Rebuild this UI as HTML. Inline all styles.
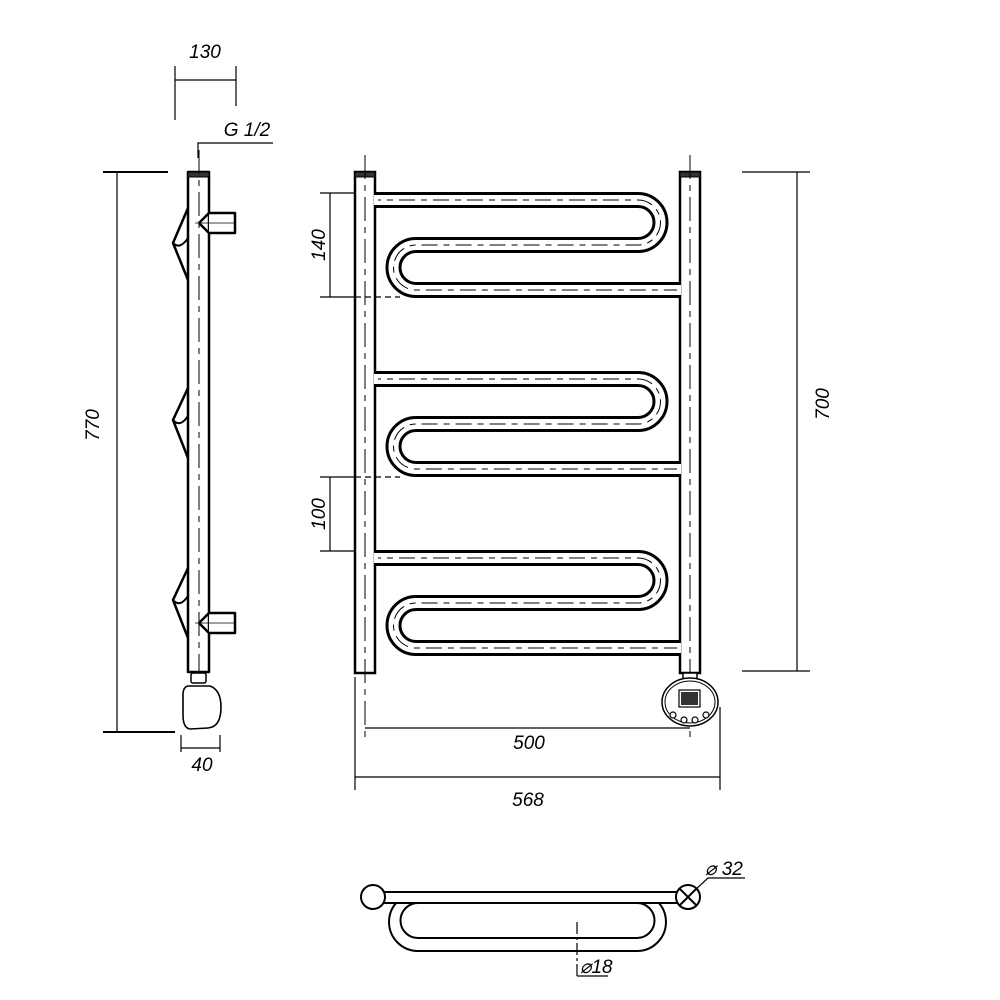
<!DOCTYPE html>
<html><head><style>html,body{margin:0;padding:0;background:#fff}svg{display:block}</style></head>
<body>
<svg width="1000" height="1000" viewBox="0 0 1000 1000" xmlns="http://www.w3.org/2000/svg" font-family="Liberation Sans, sans-serif" font-style="italic" font-size="19" fill="none" stroke="#000">
<defs>
<g id="serp">
 <path d="M375,200 H638 A22.5,22.5 0 0 1 638,245 H416 A22.5,22.5 0 0 0 416,290 H680" stroke="#000" stroke-width="16"/>
 <path d="M375,200 H638 A22.5,22.5 0 0 1 638,245 H416 A22.5,22.5 0 0 0 416,290 H680" stroke="#fff" stroke-width="10"/>
 <path d="M365,200 H638 A22.5,22.5 0 0 1 638,245 H416 A22.5,22.5 0 0 0 416,290 H690" stroke="#000" stroke-width="1" stroke-dasharray="16,6,6,6"/>
</g>
</defs>
<use href="#serp"/>
<use href="#serp" transform="translate(0,179)"/>
<use href="#serp" transform="translate(0,358)"/>
<rect x="355" y="172" width="20" height="501" fill="#fff" stroke-width="2.5"/>
<rect x="680" y="172" width="20" height="501" fill="#fff" stroke-width="2.5"/>
<rect x="355" y="172" width="20" height="5" fill="#333" stroke-width="1"/>
<rect x="680" y="172" width="20" height="5" fill="#333" stroke-width="1"/>
<g stroke="#fff" stroke-width="10">
 <line x1="374" y1="200" x2="378" y2="200"/><line x1="374" y1="379" x2="378" y2="379"/><line x1="374" y1="558" x2="378" y2="558"/>
 <line x1="677" y1="290" x2="681" y2="290"/><line x1="677" y1="469" x2="681" y2="469"/><line x1="677" y1="648" x2="681" y2="648"/>
</g>
<g stroke-width="1" stroke-dasharray="24,6,6,6">
 <line x1="365" y1="155" x2="365" y2="740"/>
 <line x1="690" y1="155" x2="690" y2="742"/>
</g>
<g stroke-width="1.2">
 <line x1="330" y1="193" x2="330" y2="297"/>
 <line x1="320" y1="193" x2="355" y2="193"/>
 <line x1="320" y1="297" x2="355" y2="297"/>
 <line x1="355" y1="297" x2="400" y2="297" stroke-dasharray="6,4"/>
 <line x1="330" y1="477" x2="330" y2="551"/>
 <line x1="320" y1="477" x2="355" y2="477"/>
 <line x1="355" y1="477" x2="400" y2="477" stroke-dasharray="6,4"/>
 <line x1="320" y1="551" x2="355" y2="551"/>
 <line x1="797" y1="172" x2="797" y2="671"/>
 <line x1="742" y1="172" x2="810" y2="172"/>
 <line x1="742" y1="671" x2="810" y2="671"/>
 <line x1="365" y1="728" x2="690" y2="728"/>
 <line x1="355" y1="777" x2="720" y2="777"/>
 <line x1="355" y1="677" x2="355" y2="790"/>
 <line x1="720" y1="707" x2="720" y2="790"/>
</g>
<g fill="#000" stroke="none">
 <text x="318" y="245" text-anchor="middle" transform="rotate(-90 318 245)" dy="7">140</text>
 <text x="318" y="514" text-anchor="middle" transform="rotate(-90 318 514)" dy="7">100</text>
 <text x="822" y="404" text-anchor="middle" transform="rotate(-90 822 404)" dy="7">700</text>
 <text x="529" y="749" text-anchor="middle">500</text>
 <text x="528" y="806" text-anchor="middle">568</text>
</g>
<rect x="683" y="673" width="14" height="10" fill="#fff" stroke-width="1.5"/>
<ellipse cx="690" cy="702" rx="28" ry="24" fill="#fff" stroke-width="1.5"/>
<ellipse cx="690" cy="702" rx="25" ry="21" stroke-width="1"/>
<rect x="679" y="690" width="21" height="17" fill="#fff" stroke-width="1.2"/>
<rect x="681" y="692" width="17" height="13" fill="#333" stroke="none"/>
<g stroke-width="1.2" fill="#fff"><circle cx="673" cy="715" r="3"/><circle cx="684" cy="720" r="3"/><circle cx="695" cy="720" r="3"/><circle cx="706" cy="715" r="3"/></g>

<g stroke-width="2.5" fill="#fff" stroke-linejoin="round">
 <path d="M188,208 L173,243 L188,280"/>
 <path d="M188,388 L173,420 L188,458"/>
 <path d="M188,568 L173,600 L188,638"/>
 <path d="M173,243 Q180,250 188,238 M173,420 Q180,428 188,416 M173,600 Q180,608 188,596" fill="none" stroke-width="2"/>
 <rect x="188" y="172" width="21" height="500"/>
 <path d="M209,213 H235 V233 H209 M199,223 L209,213 M199,223 L209,233"/>
 <path d="M209,613 H235 V633 H209 M199,623 L209,613 M199,623 L209,633"/>
</g>
<line x1="195" y1="223" x2="235" y2="223" stroke-width="0.8"/>
<line x1="195" y1="623" x2="235" y2="623" stroke-width="0.8"/>
<rect x="188" y="172" width="21" height="5" fill="#333" stroke-width="1"/>
<line x1="199" y1="150" x2="199" y2="680" stroke-width="1" stroke-dasharray="24,6,6,6"/>
<rect x="191" y="673" width="15" height="10" rx="2" fill="#fff" stroke-width="1.5"/>
<path d="M188,686 H210 Q221,690 221,707 Q221,727 208,728 L190,729 Q183,728 183,715 V695 Q183,687 188,686 Z" fill="#fff" stroke-width="1.6"/>
<g stroke-width="1.2">
 <line x1="117" y1="172" x2="117" y2="732"/>
 <line x1="103" y1="172" x2="168" y2="172" stroke-width="2"/>
 <line x1="103" y1="732" x2="175" y2="732" stroke-width="2"/>
 <line x1="175" y1="80" x2="236" y2="80"/>
 <line x1="175" y1="66" x2="175" y2="120"/>
 <line x1="236" y1="66" x2="236" y2="106"/>
 <path d="M198,158 V143 H273"/>
 <line x1="181" y1="748" x2="220" y2="748"/>
 <line x1="181" y1="735" x2="181" y2="752"/>
 <line x1="220" y1="735" x2="220" y2="752"/>
</g>
<g fill="#000" stroke="none">
 <text x="92" y="425" text-anchor="middle" transform="rotate(-90 92 425)" dy="7">770</text>
 <text x="205" y="58" text-anchor="middle">130</text>
 <text x="247" y="136" text-anchor="middle">G 1/2</text>
 <text x="202" y="771" text-anchor="middle">40</text>
</g>

<g stroke-width="2">
 <path d="M418,893 H637 A29,29 0 0 1 637,951 H418 A29,29 0 0 1 418,893" fill="#fff"/>
 <path d="M418,903 H637 A17.5,17.5 0 0 1 637,938 H418 A17.5,17.5 0 0 1 418,903 Z" fill="#fff"/>
 <rect x="384" y="892" width="294" height="11" fill="#fff"/>
 <circle cx="373" cy="897" r="12" fill="#fff"/>
 <circle cx="688" cy="897" r="12" fill="#fff"/>
 <path d="M680,889 L696,905 M696,889 L680,905"/>
</g>
<g stroke-width="1.2">
 <line x1="577" y1="922" x2="577" y2="976" stroke-dasharray="12,3,3,3"/>
 <line x1="577" y1="976" x2="608" y2="976"/>
 <path d="M694,891 L708,878 H745"/>
</g>
<g fill="#000" stroke="none">
 <text x="580" y="973">⌀18</text>
 <text x="705" y="875">⌀ 32</text>
</g>
</svg>
</body></html>
